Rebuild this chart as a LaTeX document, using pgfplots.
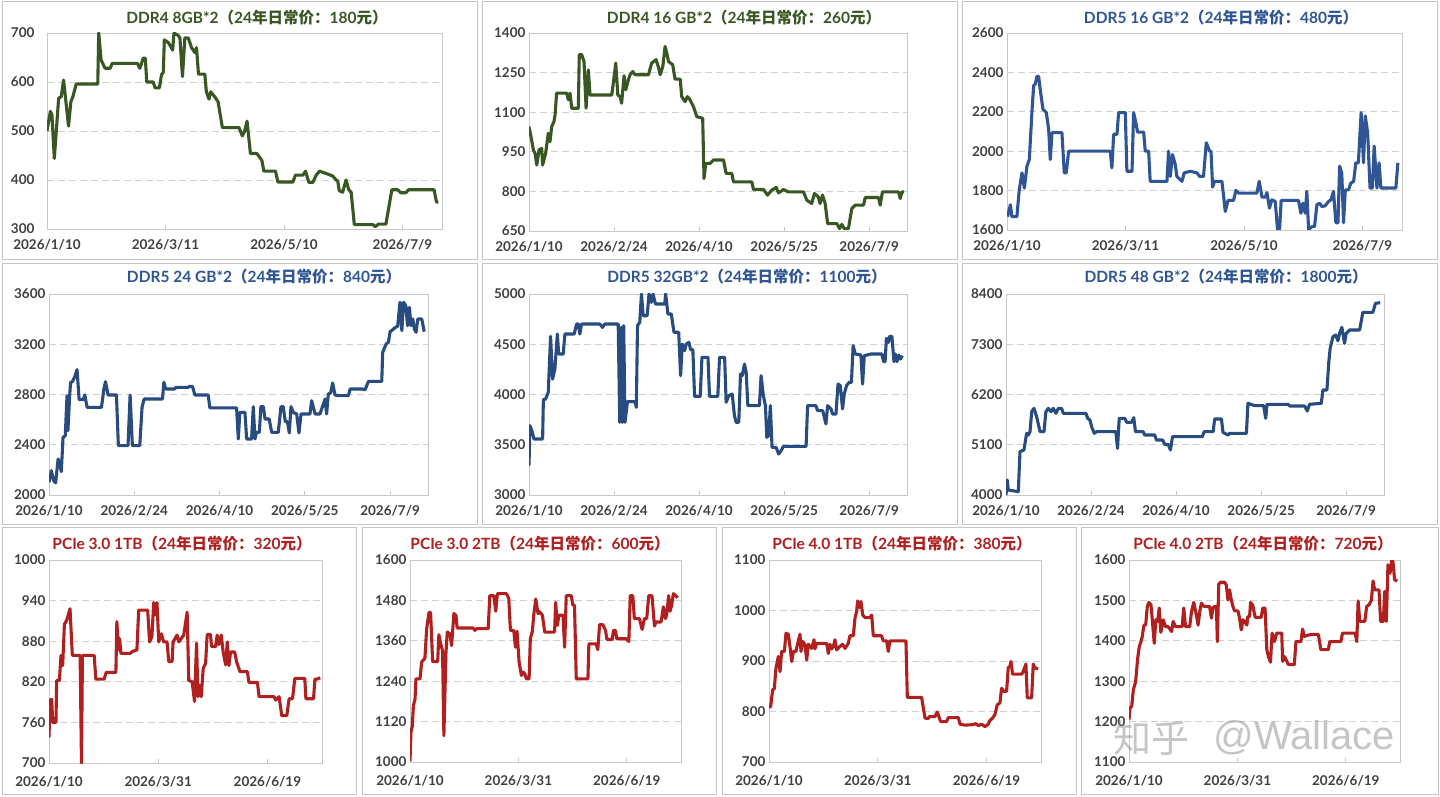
\documentclass[border=0pt]{standalone}
\usepackage{pgfplots}
\pgfplotsset{compat=1.18}
\usepackage{fontspec}
\setmainfont{Lato}
\newfontfamily\cjk{Noto Sans CJK SC}
\newfontfamily\wmfont{Liberation Sans}
\definecolor{cg}{HTML}{385723}
\definecolor{cb}{HTML}{2F5597}
\definecolor{cbb}{HTML}{294C80}
\definecolor{cr}{HTML}{B11F1F}
\definecolor{tk}{HTML}{404040}
\definecolor{fr}{HTML}{C8C8C8}
\definecolor{gr}{HTML}{D0D0D0}
\definecolor{bd}{HTML}{C4C4C4}
\newcommand\ttl[3]{\bfseries #1{\cjk （}#2{\cjk 年日常价：}#3{\cjk 元）}}
\pgfplotsset{
 panel/.style={scale only axis, anchor=south west, xmin=0, xmax=200,
  axis line style={draw=fr, line width=0.9pt},
  ymajorgrids, grid style={draw=gr, line width=0.9pt, dash pattern=on 7pt off 4pt},
  xtick style={draw=fr, line width=0.9pt}, ytick style={draw=none},
  major tick length=4pt, tick align=inside, xtick pos=bottom, ytick pos=left,
  tick label style={font=\fontsize{13.5}{13.5}\selectfont\bfseries, text=tk},
  /pgf/number format/assume math mode=true,
  /pgf/number format/1000 sep={},
  xticklabel style={yshift=-7pt},
  every axis plot/.append style={line width=3.1pt, line join=round, no marks},
 },
 ra/.style={xtick={0,60,120,180}, xticklabels={2026/1/10,2026/3/11,2026/5/10,2026/7/9}},
 rb/.style={xtick={0,45,90,135,180}, xticklabels={2026/1/10,2026/2/24,2026/4/10,2026/5/25,2026/7/9}},
 rc/.style={xtick={0,80,160}, xticklabels={2026/1/10,2026/3/31,2026/6/19}, xticklabel style={yshift=-3pt}},
}
\begin{document}
\begin{tikzpicture}[x=1pt,y=1pt]
\fill[white] (0,0) rectangle (1440,796);
\path[use as bounding box] (0,0) rectangle (1440,796);
% panel borders
\begin{scope}[draw=bd, line width=1pt]
\draw (2,536) rectangle (477,794);
\draw (482,536) rectangle (957,794);
\draw (962,536) rectangle (1437,794);
\draw (2,272) rectangle (477,532);
\draw (482,272) rectangle (957,532);
\draw (962,272) rectangle (1437,532);
\draw (2,2) rectangle (356,269);
\draw (362,2) rectangle (716,269);
\draw (722,2) rectangle (1076,269);
\draw (1081,2) rectangle (1438,269);
\end{scope}
% titles
\begin{scope}[font=\fontsize{15.5}{15.5}\selectfont]
\node[text=cg] at (257,778) {\ttl{DDR4 8GB*2}{24}{180}};
\node[text=cg] at (744,778) {\ttl{DDR4 16 GB*2}{24}{260}};
\node[text=cb] at (1221,778) {\ttl{DDR5 16 GB*2}{24}{480}};
\node[text=cb] at (264,519) {\ttl{DDR5 24 GB*2}{24}{840}};
\node[text=cb] at (747,519) {\ttl{DDR5 32GB*2}{24}{1100}};
\node[text=cb] at (1226,519) {\ttl{DDR5 48 GB*2}{24}{1800}};
\node[text=cr] at (182,252) {\ttl{PCIe 3.0 1TB}{24}{320}};
\node[text=cr] at (540,252) {\ttl{PCIe 3.0 2TB}{24}{600}};
\node[text=cr] at (902,252) {\ttl{PCIe 4.0 1TB}{24}{380}};
\node[text=cr] at (1263,252) {\ttl{PCIe 4.0 2TB}{24}{720}};
\end{scope}
% P1
\begin{axis}[panel, ra, at={(47pt,567pt)}, width=395pt, height=196pt, ymin=300, ymax=700, ytick={300,400,...,700}, yticklabel style={xshift=-9pt}]
\addplot[cg] coordinates {(0,500)(1.7,540)(2.5,533)(3.7,444)(5.9,567)(7.2,570)(8.4,604)(10.9,510)(12.1,560)(13.1,570)(14.8,596)(25.7,596)(26.2,700)(27.4,645)(29.4,628)(32,628)(33,638)(45.8,638)(47,628)(48.8,649)(49.8,648)(50.5,600)(53.8,600)(54.7,588)(56.9,588)(58,615)(58.9,620)(59.4,686)(61.5,680)(63,670)(63.6,665)(64.3,700)(66.4,695)(67.3,690)(68.6,611)(69.8,690)(71.5,690)(73.2,670)(74.9,660)(75.7,670)(76.7,616)(79.9,616)(80.7,580)(82,565)(82.9,580)(84.9,570)(86.6,560)(88.8,507)(97.2,507)(98.9,490)(100.1,500)(101.3,520)(103,454)(106.3,454)(108.8,440)(109.8,418)(115.7,418)(116.9,396)(124.5,396)(125.8,410)(129.6,410)(130.9,418)(132.6,395)(134.6,395)(136.3,410)(138,418)(142.2,412)(144.7,408)(146.4,400)(147.2,398)(148,378)(149.7,375)(151.4,400)(152.8,380)(154,375)(155.6,309)(164.9,309)(166.2,305)(167.9,310)(171.6,310)(172.9,340)(174.6,380)(177.5,380)(179.2,374)(181.7,374)(183,380)(196,380)(197.2,355)(198.2,355)};
\end{axis}
% P2
\begin{axis}[panel, rb, at={(529pt,565pt)}, width=378pt, height=198pt, ymin=650, ymax=1400, ytick={650,800,...,1400}]
\addplot[cg] coordinates {(0,1045)(1.4,995)(2.3,957)(3.2,944)(4.1,900)(5.3,957)(6.7,963)(7.2,900)(8.8,944)(10.2,1020)(11.1,988)(12,1045)(13.2,1064)(13.8,1090)(14.6,1172)(20,1172)(20.8,1147)(21.7,1172)(22.6,1115)(26.1,1115)(26.6,1318)(27.9,1318)(29.1,1292)(30.2,1115)(31.4,1260)(32.3,1165)(43.8,1165)(44.6,1210)(45.9,1286)(47,1165)(48.2,1159)(49,1134)(50.3,1238)(51.2,1185)(52.6,1223)(53.5,1242)(54.9,1254)(56.1,1242)(63.2,1242)(64.9,1286)(67.2,1299)(68.4,1273)(69.4,1242)(70.8,1273)(72,1349)(72.9,1324)(73.8,1292)(76,1280)(77.3,1225)(80,1225)(80.8,1159)(82.6,1140)(83.8,1159)(85.2,1147)(87,1121)(88.8,1083)(91.9,1077)(92.6,849)(93.5,906)(95.8,906)(97.6,919)(102.9,919)(104.3,868)(107.3,868)(108.2,836)(117.9,836)(118.8,807)(124.1,807)(126.2,786)(128.5,805)(130.8,815)(132,794)(134.6,807)(137.3,798)(145.2,798)(147,767)(149.6,754)(151,792)(153.1,779)(154,754)(155.3,786)(156.7,754)(158,678)(162.9,678)(164.3,659)(165.5,675)(166.8,659)(169,659)(170.8,735)(172.6,748)(177,748)(177.9,777)(184.9,777)(185.8,748)(187,798)(195.5,798)(196.4,773)(197.3,798)(198.5,798)};
\end{axis}
% P3
\begin{axis}[panel, ra, at={(1007pt,566pt)}, width=395pt, height=197pt, ymin=1600, ymax=2600, ytick={1600,1800,...,2600}]
\addplot[cb] coordinates {(0.3,1668)(1.7,1728)(2.5,1668)(5,1668)(6.2,1804)(7.6,1890)(8.8,1813)(10.1,1924)(11.3,1958)(12.7,2213)(13.5,2333)(14.3,2341)(15.2,2380)(16,2380)(16.9,2307)(18.2,2213)(19.9,2196)(21.1,2111)(21.9,1958)(22.8,2094)(27.8,2094)(29,1890)(30,1890)(31.2,2000)(52.3,2000)(53.1,1915)(54,2086)(55.7,2086)(56.5,2196)(59.9,2196)(60.7,1898)(63.3,1898)(64.1,2196)(65.4,2137)(66.1,2097)(69.2,2097)(70,2000)(71.7,2000)(72.5,1847)(81,1847)(81.8,2000)(82.7,1872)(83.8,1983)(85.2,1932)(86,1872)(88.6,1847)(89.7,1890)(92.8,1898)(96.2,1890)(97.5,1872)(99.5,1872)(100.9,2043)(102.6,2000)(103.3,2000)(104.1,1818)(105.1,1847)(108.8,1847)(109.7,1770)(110.5,1694)(111.9,1750)(114.7,1750)(115.9,1801)(117.3,1787)(126.5,1787)(127.7,1847)(129.1,1767)(130.8,1767)(131.6,1790)(132.9,1711)(134.1,1753)(135.8,1745)(137,1600)(138,1600)(138.8,1750)(147.6,1750)(148.8,1685)(149.8,1736)(151,1685)(151.8,1796)(152.7,1603)(154.4,1617)(155.7,1617)(156.9,1728)(158.3,1736)(159.4,1719)(161.1,1723)(162.8,1745)(164,1753)(165.3,1796)(166.5,1637)(167.6,1637)(168.4,1924)(169.5,1890)(170.4,1637)(171.3,1804)(172.9,1804)(174.1,1838)(175.5,1847)(176.6,1941)(177.9,1941)(179.3,2196)(180.5,1941)(181.4,2179)(182.6,2094)(183.8,1813)(185,1813)(185.9,2026)(187.3,1813)(188.4,1941)(189.3,1813)(196.9,1813)(197.9,1941)};
\end{axis}
% P4
\begin{axis}[panel, rb, at={(49pt,301pt)}, width=379pt, height=201pt, ymin=2000, ymax=3600, ytick={2000,2400,...,3600}]
\addplot[cbb] coordinates {(0,2101)(1.2,2194)(2.5,2114)(3.5,2096)(4.8,2287)(5.6,2247)(6.5,2186)(7.4,2459)(8.6,2472)(9.5,2791)(10,2512)(10.9,2791)(11.4,2897)(12.3,2902)(13.5,2937)(14.8,2998)(15.9,2759)(18,2759)(18.9,2796)(20.1,2698)(27.7,2698)(28.9,2838)(29.8,2902)(31.2,2796)(35.6,2796)(36.6,2393)(41.7,2393)(42.8,2796)(44,2393)(47.9,2393)(49.1,2698)(50.2,2764)(59.9,2764)(60.6,2897)(61.6,2844)(66.4,2844)(66.9,2857)(73.4,2857)(74.3,2865)(75.7,2865)(77,2796)(84,2796)(84.9,2693)(99,2693)(99.9,2446)(100.7,2658)(103.4,2658)(104.3,2446)(106.9,2446)(107.8,2703)(108.7,2446)(109.5,2499)(111,2499)(111.8,2703)(113.1,2703)(114,2605)(116.2,2605)(117.5,2499)(121,2499)(122.4,2703)(123.6,2703)(124.7,2584)(125.8,2584)(126.8,2494)(127.7,2703)(128.9,2658)(130.7,2645)(131.9,2494)(133,2645)(137.7,2645)(138.6,2751)(140.4,2645)(143,2645)(145.7,2764)(146.5,2645)(147.4,2804)(148.6,2812)(149.7,2892)(150.9,2796)(152.7,2791)(158,2791)(158.9,2844)(165,2844)(166.8,2838)(168.6,2905)(175.6,2905)(176.1,3136)(177.9,3202)(179.1,3215)(180,3300)(181.8,3321)(182.9,3335)(184,3343)(185.2,3534)(186.2,3308)(187.1,3534)(188.3,3507)(189.2,3348)(190.2,3494)(191,3348)(192,3401)(192.8,3321)(193.7,3295)(194.6,3401)(196.7,3401)(198,3300)};
\end{axis}
% P5
\begin{axis}[panel, rb, at={(529pt,301pt)}, width=378pt, height=201pt, ymin=3000, ymax=5000, ytick={3000,3500,...,5000}]
\addplot[cbb] coordinates {(0,3292)(0.5,3690)(1.8,3624)(2.6,3557)(7.2,3557)(7.6,3949)(8.8,3955)(10.2,4022)(11.4,4579)(12.5,4154)(13.7,4254)(15,4602)(15.7,4403)(18.1,4403)(19,4602)(23.9,4602)(25.2,4701)(26.1,4701)(26.9,4602)(27.8,4701)(37.5,4701)(38.9,4668)(40.1,4701)(47.2,4701)(48,3723)(48.9,4668)(49.4,3723)(50.1,4685)(50.8,3723)(52.1,3929)(56,3929)(56.8,3872)(57.4,4685)(58.6,4718)(59.5,5000)(60.4,4784)(62.5,4784)(63.5,5000)(64.7,4917)(65.6,5000)(66.9,4900)(71.8,4900)(72.3,5000)(73.5,4801)(75.3,4801)(76.7,4619)(79.2,4619)(80.2,4187)(81.1,4502)(82.3,4436)(83.2,4502)(84.6,4519)(85.5,4446)(86.7,4446)(87.6,3982)(90.6,3982)(91.5,4370)(94.7,4370)(95.5,3982)(99.9,3982)(100.8,4370)(103.5,4370)(104.3,3922)(105.7,3988)(107.5,4005)(108.7,3789)(109.6,3723)(111,3723)(111.9,4204)(112.8,4187)(114,4303)(114.9,4221)(115.8,3889)(121.9,3889)(122.8,4187)(124,3988)(125.1,3889)(125.8,3574)(126.8,3590)(127.7,3889)(128.6,3474)(130.7,3474)(132.1,3408)(133.4,3441)(134.6,3484)(146.6,3484)(147.4,3889)(151.8,3889)(152.7,3839)(155.4,3839)(157.1,3707)(158,3889)(159.8,3856)(160.6,3806)(162.4,3806)(163.5,4104)(164.7,4088)(165.9,3856)(166.8,4005)(168,4088)(169.4,4121)(170.6,4121)(171.5,4486)(172.6,4403)(175.6,4393)(176.5,4104)(177.4,4386)(180.9,4403)(186.7,4403)(187.6,4327)(188.4,4327)(189.1,4559)(190.2,4519)(190.8,4579)(192,4579)(193.1,4327)(193.8,4403)(194.7,4327)(195.6,4393)(196.5,4353)(197.6,4386)};
\end{axis}
% P6
\begin{axis}[panel, rb, at={(1006pt,301pt)}, width=378pt, height=201pt, ymin=4000, ymax=8400, ytick={4000,5100,...,8400}]
\addplot[cbb] coordinates {(0,4000)(0.7,4328)(1.2,4109)(6.5,4073)(7.4,4949)(9.5,4985)(10.9,5350)(11.8,5313)(12.7,5386)(13.6,5824)(14.8,5897)(16.2,5715)(18,5386)(20.1,5386)(21.1,5824)(22.4,5897)(23.8,5824)(25,5897)(26.4,5788)(27.7,5897)(29.4,5897)(30.3,5788)(42.3,5788)(43.2,5678)(44.4,5642)(45.3,5496)(46.7,5350)(47.9,5386)(58.1,5386)(59,5021)(59.9,5678)(62.9,5678)(63.8,5591)(66.4,5591)(67.6,5693)(68.5,5386)(72.6,5386)(73.4,5313)(78.7,5313)(79.6,5204)(82.8,5204)(84,5109)(85.8,5109)(87,4985)(88.1,5277)(103.9,5277)(104.8,5386)(109.6,5386)(110.4,5664)(114,5664)(114.8,5372)(117.5,5313)(118.4,5350)(127.2,5350)(128,6007)(131.6,5955)(136.3,5955)(137.4,5678)(138.1,5985)(149.2,5985)(150.1,5948)(158,5948)(159.4,5839)(160.6,5985)(166.8,6007)(167.7,6299)(169.8,6299)(170.8,6919)(171.5,7211)(173,7466)(174.4,7502)(175.6,7378)(176.5,7539)(177.7,7670)(179.1,7320)(180,7539)(181.8,7612)(187.1,7612)(188.8,7999)(194.1,7999)(195.5,8196)(198,8210)};
\end{axis}
% P7
\begin{axis}[panel, rc, at={(49pt,33pt)}, width=273pt, height=203pt, ymin=700, ymax=1000, ytick={700,760,...,1000}]
\addplot[cr] coordinates {(0,738)(0.7,793)(2,794)(2.7,760)(5.1,760)(5.6,822)(7.6,822)(8.8,859)(10,844)(11.3,905)(13,911)(15.4,928)(17.1,859)(22.8,859)(23.8,700)(24.5,859)(33.1,859)(34.3,824)(40.4,824)(41.9,834)(49,834)(49.7,909)(51,867)(51.7,884)(52.7,862)(59.5,862)(61.2,865)(64.4,867)(65.7,926)(72.3,926)(73.7,879)(75.4,887)(76.7,937)(77.9,919)(79.1,937)(80.4,879)(82.3,891)(84,879)(86.5,879)(87.7,850)(90.2,850)(90.9,879)(93.8,889)(95.1,879)(98.7,889)(101.2,923)(102.4,822)(104.9,820)(106.6,791)(108.1,877)(109.1,798)(110.3,815)(111.5,798)(113,840)(114.7,847)(115.9,890)(118.3,890)(119.1,872)(122,872)(123.2,889)(124.4,875)(126.2,889)(127.6,864)(129.4,845)(130.6,879)(131.8,844)(133,864)(136,864)(137.5,849)(139.9,835)(145.3,835)(146.5,819)(152.7,819)(153.9,798)(164.9,798)(166.1,793)(168.6,798)(170.5,770)(174.2,770)(175.9,795)(178.4,795)(180.1,825)(187.4,825)(188.2,795)(193.8,795)(194.8,824)(196.2,824)(198.7,826)};
\end{axis}
% P8
\begin{axis}[panel, rc, at={(410pt,34pt)}, width=271pt, height=202pt, ymin=1000, ymax=1600, ytick={1000,1120,...,1600}]
\addplot[cr] coordinates {(0,1003)(0.7,1088)(1.7,1107)(2.5,1167)(3.7,1187)(4.4,1247)(7.4,1247)(8.6,1297)(11,1308)(12.3,1396)(14,1444)(15.2,1444)(16.7,1298)(20.4,1298)(21.3,1378)(22.6,1351)(24,1331)(25,1078)(26.5,1321)(27.5,1386)(29.4,1381)(30.7,1346)(32.4,1441)(33.9,1436)(34.8,1398)(46.6,1398)(47.9,1391)(49.1,1396)(57.7,1396)(58.9,1494)(61.8,1494)(63.3,1448)(64.5,1500)(71.2,1500)(72.9,1486)(74.1,1391)(76.6,1391)(77.8,1341)(79,1388)(80.5,1297)(82.2,1257)(83.4,1267)(84.7,1262)(85.9,1247)(87.9,1247)(88.8,1366)(90.3,1388)(91.3,1436)(92.8,1484)(94.5,1441)(95.7,1446)(97.7,1436)(99.4,1386)(106.7,1386)(107.5,1474)(108.7,1406)(109.9,1436)(112.9,1436)(114.1,1341)(115.3,1494)(119,1494)(120.2,1466)(121.4,1466)(122.7,1247)(131.3,1247)(132,1351)(137.4,1351)(138.6,1334)(139.9,1408)(142.3,1408)(144.3,1391)(145.3,1364)(149.2,1364)(150.2,1391)(151.6,1391)(152.6,1366)(159.5,1366)(161.5,1358)(162.5,1494)(164.4,1494)(165.6,1426)(169.3,1426)(171.3,1394)(173,1426)(174.7,1426)(176.2,1494)(178.6,1494)(180.4,1404)(181.6,1416)(185.3,1416)(187,1461)(188.5,1426)(189.4,1436)(190.9,1494)(191.9,1448)(193.1,1466)(194.4,1500)(195.8,1495)(197.6,1488)};
\end{axis}
% P9
\begin{axis}[panel, rc, at={(769pt,34pt)}, width=272pt, height=202pt, ymin=700, ymax=1100, ytick={700,800,...,1100}]
\addplot[cr] coordinates {(0,808)(1.2,810)(2.7,843)(3.9,845)(5.1,886)(6.9,909)(8.1,879)(9.3,919)(11.3,919)(12.5,955)(14.2,953)(15.4,929)(16.7,899)(17.9,919)(19.8,919)(21.1,935)(22.8,953)(23.5,919)(24.7,939)(26.5,932)(27.7,902)(28.9,933)(31.4,925)(33.1,942)(33.8,924)(35,935)(42.4,935)(43.6,915)(44.8,933)(46.1,924)(47.3,929)(48.5,942)(49.7,922)(52.2,929)(54.1,933)(55.9,925)(58.3,935)(59.5,950)(62,950)(63.2,985)(64.4,998)(65.2,1019)(66.4,1006)(67.6,1018)(68.9,991)(70.6,986)(74.2,986)(75.5,991)(76.7,950)(82.8,950)(84,940)(86.5,940)(87.7,919)(88.9,940)(100.7,940)(101.7,828)(112.2,828)(114.7,787)(117.1,786)(117.8,790)(122,790)(123.7,799)(126.2,780)(130.6,780)(131.8,788)(139.2,788)(140.4,775)(144.1,773)(150.2,774)(152.1,776)(153.9,772)(156.3,775)(158.8,770)(161.2,775)(162.4,782)(164.4,787)(166.1,794)(167.8,813)(169.8,817)(171,846)(172.7,840)(174.7,840)(175.9,887)(177.1,889)(177.9,899)(179.1,874)(185.7,874)(186.9,879)(188.9,894)(189.9,827)(193.1,827)(194.3,894)(195.5,886)(198,885)};
\end{axis}
% P10
\begin{axis}[panel, rc, at={(1129pt,34pt)}, width=271pt, height=202pt, ymin=1100, ymax=1600, ytick={1100,1200,...,1600}]
\addplot[cr] coordinates {(0,1205)(0.7,1233)(2,1238)(3.2,1279)(4.9,1299)(6.4,1357)(7.6,1386)(8.8,1398)(9.8,1411)(11,1439)(12.3,1439)(13.5,1485)(14.7,1495)(16.2,1489)(17.2,1452)(18.6,1394)(19.8,1452)(21.1,1448)(22.3,1481)(23.5,1421)(25.2,1452)(27,1435)(28.9,1435)(31.4,1423)(32.6,1448)(34.3,1435)(39.2,1435)(40.4,1481)(41.7,1435)(44.8,1435)(46.1,1472)(47.8,1495)(49.7,1464)(51,1439)(52.2,1472)(53.4,1493)(55.4,1485)(59.5,1485)(60.8,1456)(62,1482)(63.2,1485)(64.5,1485)(65.2,1398)(66.2,1540)(67.6,1545)(70.6,1545)(71.8,1538)(73,1501)(74.2,1526)(75.5,1501)(76.7,1485)(77.9,1474)(80.4,1474)(81.6,1456)(82.8,1427)(84.1,1452)(85.3,1448)(87,1439)(87.7,1460)(89,1460)(89.7,1495)(91.4,1487)(93.1,1458)(97.5,1458)(98.7,1481)(100.4,1481)(101.7,1378)(102.9,1361)(104.4,1347)(105.6,1419)(107.3,1398)(109,1419)(112.7,1419)(113.4,1349)(114.7,1361)(116.4,1350)(117.6,1341)(122,1341)(123.2,1398)(126.9,1398)(128.1,1429)(129.4,1411)(134.3,1416)(139.7,1416)(141.6,1378)(147,1378)(148.2,1398)(156.3,1398)(157.6,1419)(166.9,1419)(168.1,1398)(169.1,1499)(170.3,1448)(174,1448)(175.4,1485)(177.1,1489)(178.9,1501)(180.1,1548)(181.3,1526)(184.5,1526)(185.7,1448)(187.7,1448)(188.7,1522)(189.9,1448)(191.1,1588)(192.6,1567)(193.8,1598)(194.8,1596)(196,1551)(198,1548)};
\end{axis}
% watermark
\node[text=gray, opacity=0.45, font=\cjk\fontsize{38}{38}\selectfont] at (1151,58) {知乎};
\node[text=gray, opacity=0.45, font=\wmfont\fontsize{40}{40}\selectfont, anchor=west] at (1210,58) {@Wallace};
\end{tikzpicture}
\end{document}
